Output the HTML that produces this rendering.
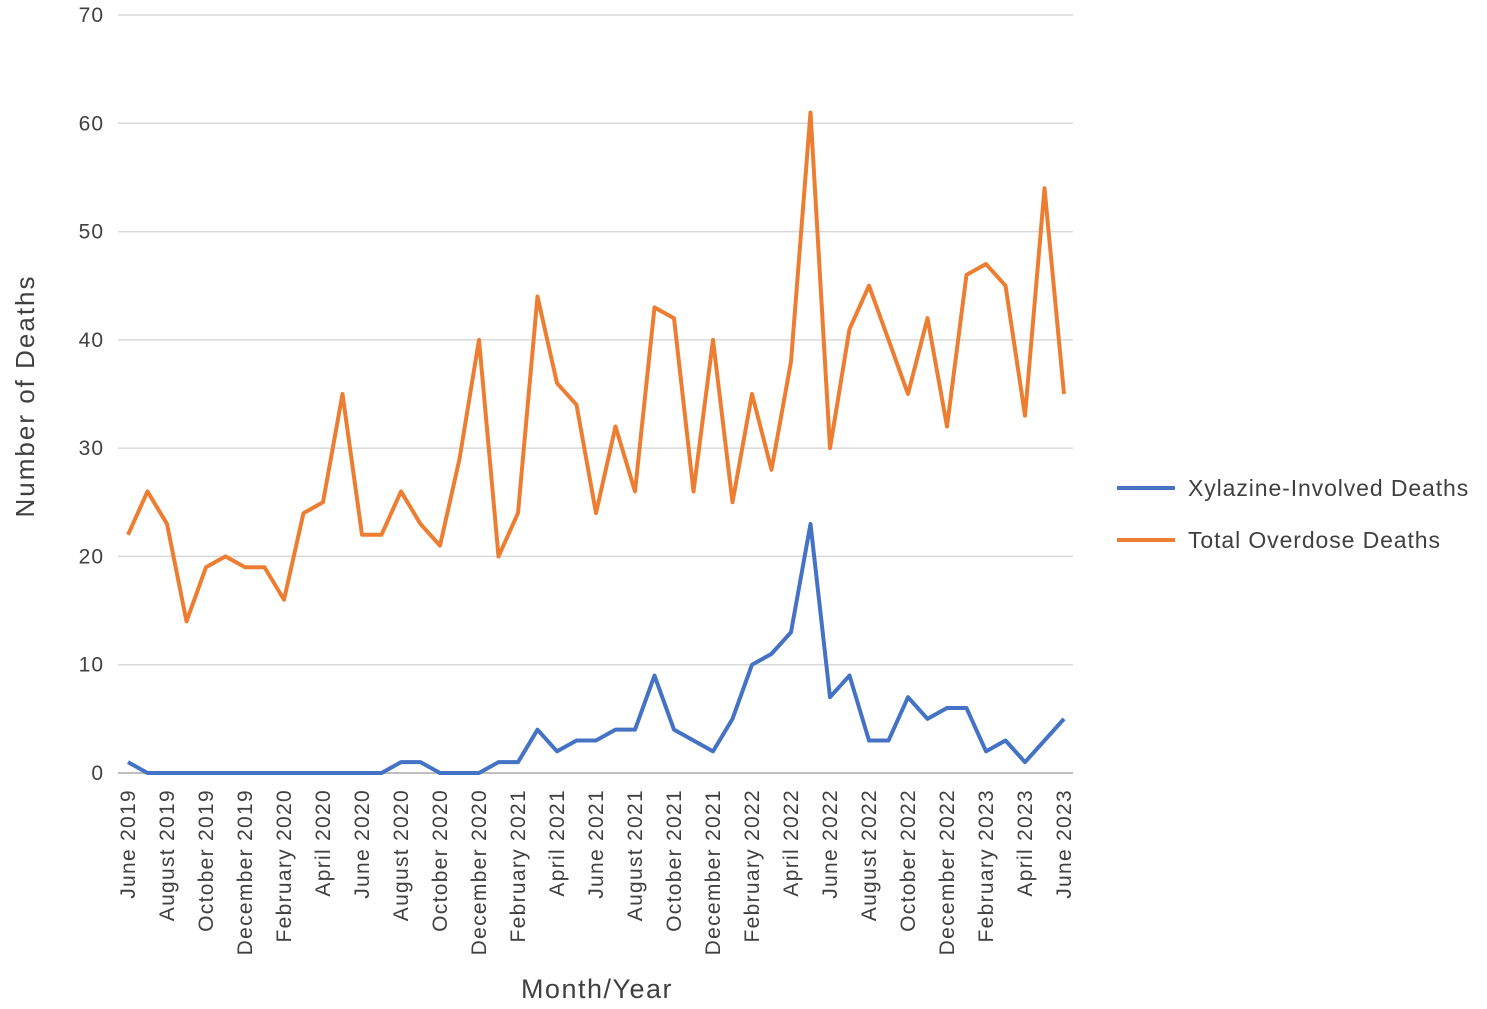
<!DOCTYPE html>
<html><head><meta charset="utf-8"><style>
body{margin:0;background:#fff;}
svg{display:block;font-family:"Liberation Sans",Arial,sans-serif;}
</style></head><body>
<svg id="chart" width="1487" height="1009"></svg>
<script>
const months=["June","July","August","September","October","November","December","January","February","March","April","May"];
const categories=[];
for(let i=0;i<49;i++){const m=(i)%12;const y=2019+Math.floor((i+5)/12);categories.push(months[m]+" "+y);}
const xylazine=[1,0,0,0,0,0,0,0,0,0,0,0,0,0,1,1,0,0,0,1,1,4,2,3,3,4,4,9,4,3,2,5,10,11,13,23,7,9,3,3,7,5,6,6,2,3,1,3,5];
const total=[22,26,23,14,19,20,19,19,16,24,25,35,22,22,26,23,21,29,40,20,24,44,36,34,24,32,26,43,42,26,40,25,35,28,38,61,30,41,45,40,35,42,32,46,47,45,33,54,35];
const yTicks=[0,10,20,30,40,50,60,70];
const NS="http://www.w3.org/2000/svg";
const svg=document.getElementById('chart');
const x0=128,x1=1064,yBase=773,yTop=15,yMax=70;
const xs=i=>x0+(x1-x0)*i/(categories.length-1);
const ys=v=>yBase-(yBase-yTop)*v/yMax;
function el(t,a){const e=document.createElementNS(NS,t);for(const k in a)e.setAttribute(k,a[k]);svg.appendChild(e);return e;}
yTicks.forEach(t=>{
  const g=el('line',{x1:118,x2:1073,y1:ys(t),y2:ys(t),stroke:t===0?'#bfbfbf':'#d9d9d9','stroke-width':t===0?2:1.5});
  
  
  const tx=el('text',{x:104,y:ys(t)+7,'text-anchor':'end','font-size':21,'letter-spacing':1,fill:'#404040'});
  tx.textContent=t;
  
  
});
categories.forEach((c,i)=>{
  if(i%2)return;
  const tx=el('text',{transform:`translate(${xs(i)+7},789) rotate(-90)`,'text-anchor':'end','font-size':21,'letter-spacing':1.3,fill:'#404040'});
  tx.textContent=c;
  
  
});
function series(vals,color,name){
  const p=el('polyline',{points:vals.map((v,i)=>xs(i)+','+ys(v)).join(' '),fill:'none',stroke:color,'stroke-width':4,'stroke-linejoin':'round'});
  
  
}
series(total,'#ED7D31','total-overdose-line');
series(xylazine,'#4472C4','xylazine-line');
const yt=el('text',{transform:'translate(34,396) rotate(-90)','text-anchor':'middle','font-size':26,'letter-spacing':2,fill:'#404040'});
yt.textContent='Number of Deaths';


const xt=el('text',{x:597,y:998,'text-anchor':'middle','font-size':27,'letter-spacing':1.5,fill:'#404040'});
xt.textContent='Month/Year';


[['Xylazine-Involved Deaths','#4472C4',488],['Total Overdose Deaths','#ED7D31',540]].forEach(([t,c,y])=>{
  const l=el('line',{x1:1117,x2:1175,y1:y,y2:y,stroke:c,'stroke-width':4});
  
  
  const tx=el('text',{x:1188,y:y+8,'font-size':23,'letter-spacing':0.9,fill:'#404040'});
  tx.textContent=t;
  
  
});
</script>
</body></html>
